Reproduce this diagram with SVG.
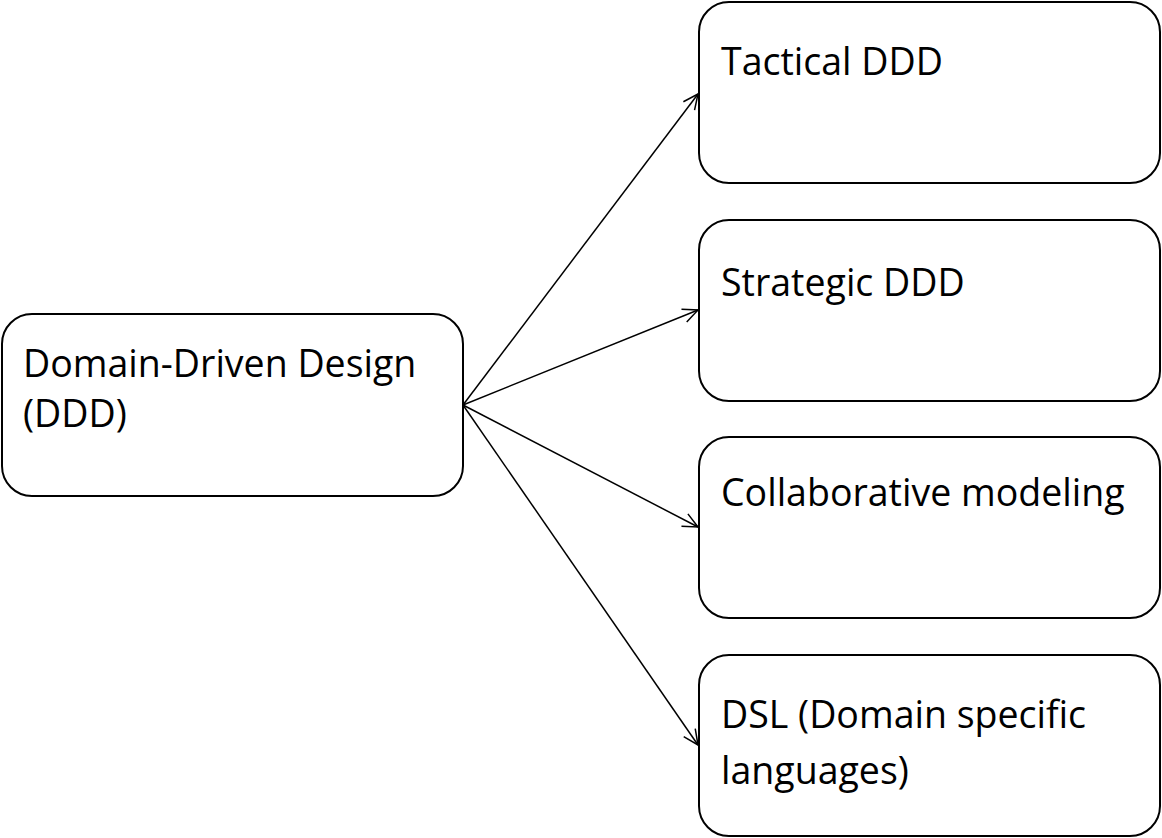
<svg xmlns="http://www.w3.org/2000/svg" width="1162" height="838" viewBox="0 0 1162 838">
<style>
.box{fill:#fff;stroke:#000;stroke-width:2}
.t{font-family:"Open Sans","Liberation Sans",sans-serif;font-size:37.5px;fill:#000}
.c{stroke:#000;stroke-width:1.5;fill:none}
</style>
<defs><marker id="a" markerWidth="20" markerHeight="20" refX="16" refY="10" orient="auto" markerUnits="userSpaceOnUse"><path d="M1,3 L16,10 L1,17" fill="none" stroke="#000" stroke-width="1.5"/></marker></defs>
<rect width="1162" height="838" fill="#fff"/>
<g id="connectors">
<line class="c" x1="463" y1="405" x2="698" y2="94" marker-end="url(#a)"/>
<line class="c" x1="463" y1="405" x2="698" y2="310" marker-end="url(#a)"/>
<line class="c" x1="463" y1="405" x2="698" y2="527" marker-end="url(#a)"/>
<line class="c" x1="463" y1="405" x2="698" y2="745" marker-end="url(#a)"/>
</g>
<g id="ddd"><rect class="box" x="2" y="314" width="461" height="182" rx="30"/><text class="t" x="23" y="377">Domain-Driven Design</text><text class="t" x="23" y="427">(DDD)</text></g>
<g id="tactical"><rect class="box" x="699" y="2" width="461" height="181" rx="30"/><text class="t" x="721" y="75">Tactical DDD</text></g>
<g id="strategic"><rect class="box" x="699" y="220" width="461" height="181" rx="30"/><text class="t" x="721" y="296">Strategic DDD</text></g>
<g id="collab"><rect class="box" x="699" y="437" width="461" height="181" rx="30"/><text class="t" x="721" y="506">Collaborative modeling</text></g>
<g id="dsl"><rect class="box" x="699" y="655" width="461" height="181" rx="30"/><text class="t" x="721" y="728">DSL (Domain specific</text><text class="t" x="721" y="784">languages)</text></g>
</svg>
